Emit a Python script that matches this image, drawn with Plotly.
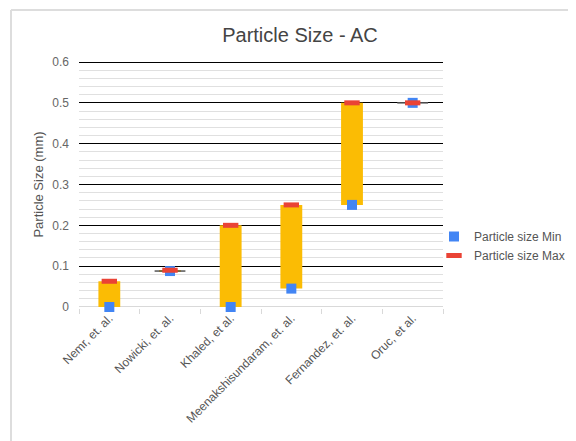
import plotly.graph_objects as go

categories = ["Nemr, et. al.", "Nowicki, et. al.", "Khaled, et al.",
              "Meenakshisundaram, et. al.", "Fernandez, et. al.", "Oruc, et al."]
size_min = [0.0, 0.088, 0.0, 0.045, 0.25, 0.5]
size_max = [0.063, 0.09, 0.2, 0.25, 0.5, 0.5]
y_ticks = [0, 0.1, 0.2, 0.3, 0.4, 0.5, 0.6]
y_tick_labels = ["0", "0.1", "0.2", "0.3", "0.4", "0.5", "0.6"]

heights = [mx - mn for mn, mx in zip(size_min, size_max)]
thin_x = [c for c, h in zip(categories, heights) if h < 0.01]
thin_y = [mn for mn, h in zip(size_min, heights) if h < 0.01]

# page body has an 8px margin: figure coords = screen coords - 8
OFF = 8
W, H = 568, 433
px0, px1, py0, py1 = 79 - OFF, 443 - OFF, 61 - OFF, 308 - OFF
L, R, T, B = px0, W - px1, py0, H - py1
pw, ph = px1 - px0, py1 - py0

fig = go.Figure()
fig.add_trace(go.Bar(x=categories, y=heights, base=size_min, width=0.36,
                     marker=dict(color="#FBBC04", line=dict(width=0)),
                     showlegend=False, hoverinfo="skip", cliponaxis=False))
fig.add_trace(go.Scatter(x=thin_x, y=thin_y, mode="markers", showlegend=False,
                         cliponaxis=False,
                         marker=dict(symbol="line-ew", size=22,
                                     line=dict(color="#555555", width=1.5))))
fig.add_trace(go.Scatter(x=categories, y=size_min, mode="markers", name="Particle size Min",
                         cliponaxis=False,
                         marker=dict(symbol="square", size=10, color="#4285F4",
                                     line=dict(width=0))))
fig.add_trace(go.Scatter(x=categories, y=size_max, mode="markers", name="Particle size Max",
                         cliponaxis=False,
                         marker=dict(symbol="line-ew", size=11,
                                     line=dict(color="#EA4335", width=5))))

font_family = "Liberation Sans, Arial, sans-serif"
border_x = (11 - OFF - L) / pw
border_y = (py1 - (10 - OFF)) / ph
fig.update_layout(
    width=W, height=H,
    margin=dict(l=L, r=R, t=T, b=B, pad=0, autoexpand=False),
    paper_bgcolor="white", plot_bgcolor="white",
    font=dict(family=font_family, color="#555555", size=12),
    title=dict(text="Particle Size - AC", x=(300 - OFF) / W, xanchor="center",
               y=1 - (35 - OFF) / H, yanchor="middle",
               font=dict(size=20, color="#444444")),
    legend=dict(x=(426 - L) / pw, xanchor="left", y=(py1 - (246 - OFF)) / ph, yanchor="middle",
                font=dict(size=12, color="#555555"), bgcolor="rgba(0,0,0,0)",
                itemwidth=30, tracegroupgap=0),
    xaxis=dict(type="category", range=[-0.5, 5.5], showgrid=False, automargin=False,
               showline=False, ticks="outside", tickson="boundaries",
               ticklen=5, tickcolor="#d9d9d9", tickangle=-45,
               tickfont=dict(size=12, color="#555555")),
    yaxis=dict(range=[-0.0025, 0.6025], tickvals=y_ticks, ticktext=y_tick_labels,
               automargin=False,
               showgrid=True, gridcolor="#000000", gridwidth=1,
               zeroline=True, zerolinecolor="#d9d9d9", zerolinewidth=1,
               minor=dict(dtick=0.02, showgrid=True, gridcolor="#e0e0e0", gridwidth=1),
               ticks="", ticklabelstandoff=9,
               tickfont=dict(size=12, color="#666666"),
               title=dict(text="Particle Size (mm)", standoff=5,
                          font=dict(size=13, color="#555555"))),
    shapes=[dict(type="line", xref="paper", yref="paper",
                 x0=border_x, x1=border_x, y0=-B / ph - 0.05,
                 y1=border_y, line=dict(color="#dddddd", width=2)),
            dict(type="line", xref="paper", yref="paper",
                 x0=border_x, x1=(W - L) / pw + 0.05, y0=border_y,
                 y1=border_y, line=dict(color="#dddddd", width=2))],
)

fig.write_html("out.html")
